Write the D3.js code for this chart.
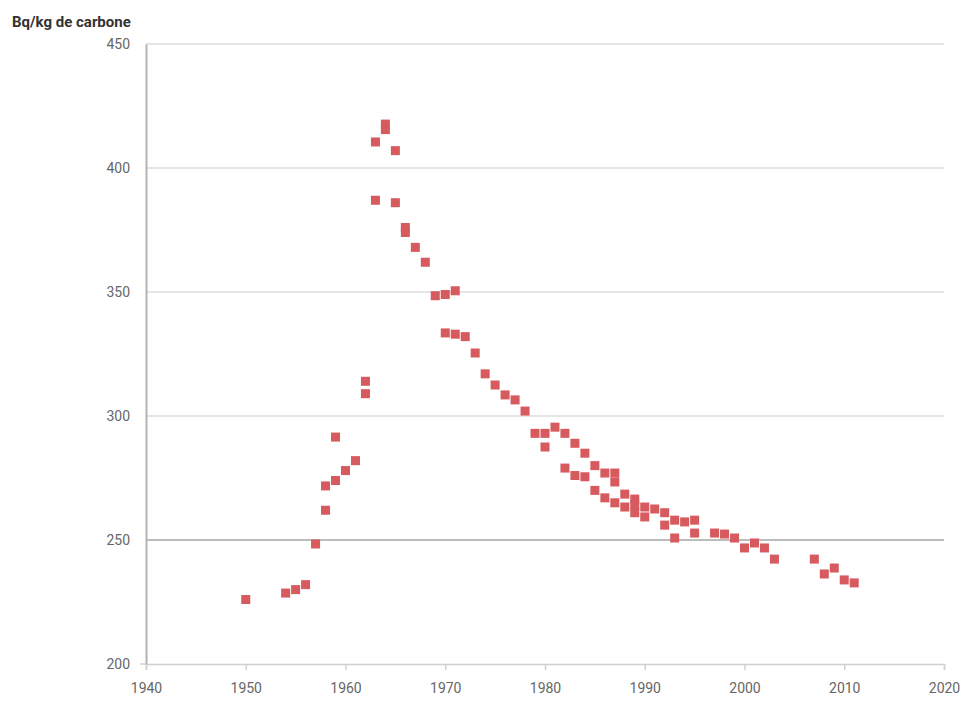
<!DOCTYPE html>
<html>
<head>
<meta charset="utf-8">
<script src="https://cdn.jsdelivr.net/npm/d3@7"></script>
<style>
  body { margin: 0; background: #fff; }
  text { font-family: Roboto, "Liberation Sans", sans-serif; }
</style>
</head>
<body>
<script>

// measurement years and activity (Bq/kg de carbone)
var years = [1950, 1954, 1955, 1956, 1957, 1958, 1958, 1959, 1959, 1960, 1961,
  1962, 1962, 1963, 1963, 1964, 1964, 1965, 1965, 1966, 1966, 1967, 1968,
  1969, 1970, 1971, 1970, 1971, 1972, 1973, 1974, 1975, 1976, 1977, 1978,
  1979, 1980, 1980, 1981, 1982, 1982, 1983, 1983, 1984, 1984, 1985, 1985,
  1986, 1986, 1987, 1987, 1987, 1988, 1988, 1989, 1989, 1989, 1990, 1990,
  1991, 1992, 1992, 1993, 1993, 1994, 1995, 1995,
  1997, 1998, 1999, 2000, 2001, 2002, 2003, 2007, 2008, 2009, 2010, 2011]
var values = [226, 228.6, 230, 232, 248.4, 262, 271.8, 274, 291.5, 278, 282,
  314, 309, 410.5, 387, 417.7, 415.5, 407, 386, 376, 374, 368, 362,
  348.5, 349, 350.5, 333.5, 333, 332, 325.4, 317, 312.5, 308.5, 306.5, 302,
  293, 293, 287.5, 295.5, 293, 279, 289, 276, 285, 275.5, 280, 270,
  277, 267, 277, 273.4, 265, 268.5, 263.3, 266.5, 264, 261, 263.3, 259.3,
  262.5, 261, 256, 258, 250.8, 257.3, 258, 252.8,
  252.8, 252.4, 250.8, 246.8, 248.8, 246.8, 242.3, 242.3, 236.3, 238.7, 233.9, 232.7]

var xTicks = [1940, 1950, 1960, 1970, 1980, 1990, 2000, 2010, 2020]
var yTicks = [200, 250, 300, 350, 400, 450]
var yLabel = "Bq/kg de carbone"

var width = 973, height = 702
var margin = {top: 44, right: 29, bottom: 38, left: 146}

var svg = d3.select("body").append("svg")
    .attr("width", width)
    .attr("height", height)

var x = d3.scaleLinear().domain([1940, 2020]).range([margin.left, width - margin.right])
var y = d3.scaleLinear().domain([200, 450]).range([height - margin.bottom, margin.top])

// gridlines
svg.append("g")
    .selectAll("line")
    .data(yTicks.filter(d => d > 200))
    .enter()
    .append("line")
    .attr("x1", x(1940))
    .attr("x2", x(2020))
    .attr("y1", d => y(d))
    .attr("y2", d => y(d))
    .attr("stroke", d => d == 250 ? "#a6a6a6" : "#dcdcdc")
    .attr("stroke-width", 1.5)

// x axis
var xAxis = svg.append("g")
    .attr("transform", "translate(0," + y(200) + ")")
    .call(d3.axisBottom(x).tickValues(xTicks).tickFormat(d3.format("d")).tickSize(6).tickPadding(13))
xAxis.select(".domain").attr("stroke", "#d0d0d0").attr("stroke-width", 1.5)
xAxis.selectAll(".tick line").attr("stroke", "#d0d0d0").attr("stroke-width", 1.5)
xAxis.selectAll("text").attr("fill", "#666").style("font-size", "14px")

// y axis
var yAxis = svg.append("g")
    .attr("transform", "translate(" + x(1940) + ",0)")
    .call(d3.axisLeft(y).tickValues(yTicks).tickSize(0).tickPadding(16))
yAxis.select(".domain").attr("stroke", "#b3b3b3").attr("stroke-width", 2)
yAxis.selectAll("text").attr("fill", "#666").style("font-size", "14px")

// small tick at 200
svg.append("line")
    .attr("x1", x(1940) - 6).attr("x2", x(1940))
    .attr("y1", y(200)).attr("y2", y(200))
    .attr("stroke", "#d0d0d0").attr("stroke-width", 1.5)

svg.append("text")
    .attr("x", 12)
    .attr("y", 27)
    .attr("fill", "#333")
    .style("font-size", "15px")
    .style("font-weight", "bold")
    .text(yLabel)

var pts = years.map((d, i) => ({year: d, value: values[i]}))

svg.append("g")
    .selectAll("rect")
    .data(pts)
    .enter()
    .append("rect")
    .attr("x", d => x(d.year) - 4.5)
    .attr("y", d => y(d.value) - 4.5)
    .attr("width", 9)
    .attr("height", 9)
    .attr("fill", "#d65a5e")

</script>
</body>
</html>
